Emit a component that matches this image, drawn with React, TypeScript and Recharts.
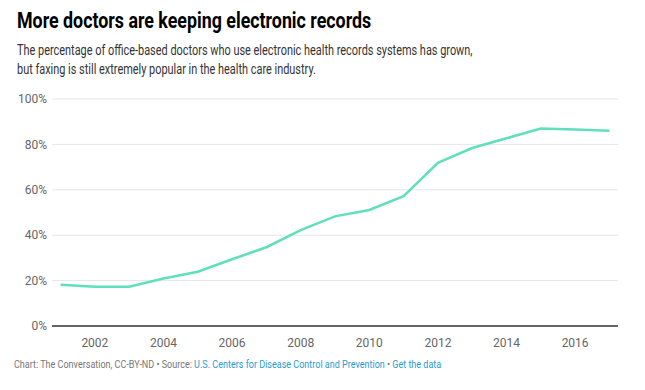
import React from "react";
import { LineChart, Line, XAxis, YAxis, CartesianGrid } from "recharts";

const years = [2001, 2002, 2003, 2004, 2005, 2006, 2007, 2008, 2009, 2010, 2011, 2012, 2013, 2014, 2015, 2016, 2017];
const ehrShare = [18.2, 17.3, 17.3, 20.9, 23.9, 29.4, 34.7, 42.2, 48.3, 51.1, 57.2, 71.9, 78.4, 82.7, 87.0, 86.6, 86.0];
const xTicks = [2002, 2004, 2006, 2008, 2010, 2012, 2014, 2016];
const yTicks = [0, 20, 40, 60, 80, 100];

const data = years.map((y, i) => ({ year: y, value: ehrShare[i] }));

const FONT = "Roboto, 'Noto Sans', sans-serif";

export default function App() {
  return (
    <div style={{ position: "absolute", left: 0, top: 0, width: 645, height: 390, background: "#fff", fontFamily: FONT, overflow: "hidden" }}>
      <div style={{ position: "absolute", left: 17, top: 8, fontSize: 22, lineHeight: "26px", fontWeight: 700, color: "#000", whiteSpace: "nowrap", transform: "scaleX(0.81)", transformOrigin: "0 0" }}>
        More doctors are keeping electronic records
      </div>
      <div style={{ position: "absolute", left: 17, top: 41, fontSize: 14, lineHeight: "19px", color: "#333", whiteSpace: "nowrap", transform: "scaleX(0.78)", transformOrigin: "0 0" }}>
        <div>The percentage of office-based doctors who use electronic health records systems has grown,</div>
        <div>but faxing is still extremely popular in the health care industry.</div>
      </div>
      <div style={{ position: "absolute", left: 0, top: 0 }}>
        <LineChart width={645} height={350} data={data} margin={{ top: 99, right: 27, left: 0, bottom: 0 }}>
          <CartesianGrid horizontal={true} vertical={false} stroke="#e6e6e6" strokeWidth={1} />
          <XAxis
            dataKey="year"
            type="number"
            domain={[2000.75, 2017.25]}
            ticks={xTicks}
            height={24}
            tickLine={false}
            tickSize={0}
            tickMargin={12}
            axisLine={{ stroke: "#666", strokeWidth: 2 }}
            tick={{ fill: "#666", fontSize: 12, fontFamily: FONT }}
            interval={0}
          />
          <YAxis
            domain={[0, 100]}
            ticks={yTicks}
            width={52}
            axisLine={false}
            tickLine={false}
            tickSize={0}
            tickMargin={5}
            tickFormatter={(v: number) => `${v}%`}
            tick={{ fill: "#666", fontSize: 12, fontFamily: FONT }}
            interval={0}
          />
          <Line type="linear" dataKey="value" stroke="#5fe0bb" strokeWidth={2.5} dot={false} isAnimationActive={false} />
        </LineChart>
      </div>
      <div style={{ position: "absolute", left: 14, top: 358, fontSize: 11, lineHeight: "14px", color: "#777", whiteSpace: "nowrap", transform: "scaleX(0.82)", transformOrigin: "0 0" }}>
        Chart: The Conversation, CC-BY-ND • Source: <span style={{ color: "#2a9bd0" }}>U.S. Centers for Disease Control and Prevention</span> • <span style={{ color: "#2a9bd0" }}>Get the data</span>
      </div>
    </div>
  );
}
